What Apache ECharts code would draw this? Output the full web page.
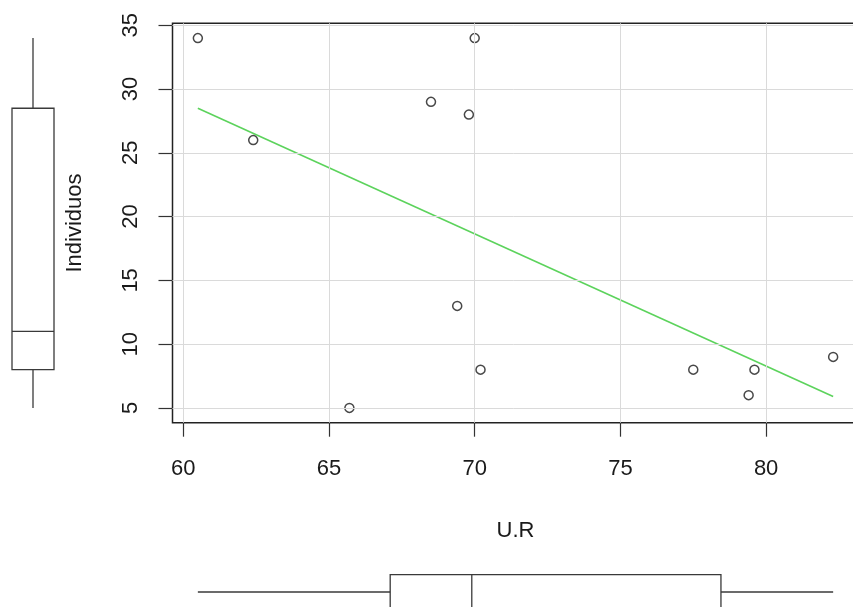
<!DOCTYPE html>
<html><head><meta charset="utf-8">
<script src="https://cdn.jsdelivr.net/npm/echarts@6/dist/echarts.min.js"></script>
<style>html,body{margin:0;padding:0;background:#fff}#c{width:853px;height:607px}</style>
</head><body><div id="c"></div>
<script>
// Data
const ur = [60.5, 70.0, 68.5, 69.8, 62.4, 69.4, 70.2, 65.7, 77.5, 79.6, 79.4, 82.3];
const individuos = [34, 34, 29, 28, 26, 13, 8, 5, 8, 8, 6, 9];
const fitX = [60.5, 82.3];
const fitY = [28.5, 5.9];
const xTicks = [60, 65, 70, 75, 80];
const yTicks = [5, 10, 15, 20, 25, 30, 35];
const xBox = [60.5, 67.1, 69.9, 78.45, 82.3]; // min, lower hinge, median, upper hinge, max
const yBox = [5, 8, 11, 28.5, 34];
const xRange = [59.63, 83.17];
const yRange = [3.84, 35.16];

const FONT = 'Liberation Sans';
const TXT = '#1a1a1a';
const FS = 22;
const G = {left: 172.5, top: 23.3, width: 686, height: 399.4};

const boxStroke = {stroke: '#3a3a3a', lineWidth: 1.3, fill: null};

const chart = echarts.init(document.getElementById('c'), null, {renderer: 'canvas'});
chart.setOption({
  animation: false,
  backgroundColor: '#fff',
  textStyle: {fontFamily: FONT},
  grid: [
    {left: G.left, top: G.top, width: G.width, height: G.height, show: true,
     outerBoundsMode: 'none', containLabel: false,
     borderColor: '#222', borderWidth: 1.5, backgroundColor: 'transparent'},
    {left: 0, top: G.top, width: 66, height: G.height, outerBoundsMode: 'none'},
    {left: G.left, top: 577, width: G.width, height: 30, outerBoundsMode: 'none'}
  ],
  xAxis: [
    {type: 'value', gridIndex: 0, min: xRange[0], max: xRange[1],
     axisLine: {show: false},
     axisTick: {show: true, customValues: xTicks, length: 14, lineStyle: {color: '#333', width: 1.2}},
     axisLabel: {customValues: xTicks, fontSize: FS, fontFamily: FONT, color: TXT, margin: 35},
     splitLine: {show: false},
     name: 'U.R', nameLocation: 'middle', nameGap: 97,
     nameTextStyle: {fontSize: FS, fontFamily: FONT, color: TXT}},
    {type: 'value', gridIndex: 1, min: 0, max: 1, show: false},
    {type: 'value', gridIndex: 2, min: xRange[0], max: xRange[1], show: false}
  ],
  yAxis: [
    {type: 'value', gridIndex: 0, min: yRange[0], max: yRange[1],
     axisLine: {show: false},
     axisTick: {show: true, customValues: yTicks, length: 14, lineStyle: {color: '#333', width: 1.2}},
     axisLabel: {customValues: yTicks, rotate: 90, fontSize: FS, fontFamily: FONT, color: TXT, margin: 31},
     splitLine: {show: false},
     name: 'Individuos', nameLocation: 'middle', nameGap: 87, nameRotate: 90,
     nameTextStyle: {fontSize: FS, fontFamily: FONT, color: TXT}},
    {type: 'value', gridIndex: 1, min: yRange[0], max: yRange[1], show: false},
    {type: 'value', gridIndex: 2, min: 0, max: 2, show: false}
  ],
  series: [
    {type: 'scatter', xAxisIndex: 0, yAxisIndex: 0, data: [], silent: true, z: 1,
     markLine: {silent: true, symbol: ['none', 'none'], label: {show: false},
       lineStyle: {color: '#dadada', width: 1, type: 'solid'},
       emphasis: {disabled: true},
       data: xTicks.map(v => ({xAxis: v})).concat(yTicks.map(v => ({yAxis: v})))}},
    {type: 'line', xAxisIndex: 0, yAxisIndex: 0, z: 3, silent: true,
     data: fitX.map((x, i) => [x, fitY[i]]), showSymbol: false,
     lineStyle: {color: '#5cd35c', width: 1.6}},
    {type: 'scatter', xAxisIndex: 0, yAxisIndex: 0, z: 4, silent: true,
     data: ur.map((x, i) => [x, individuos[i]]),
     symbol: 'circle', symbolSize: 9,
     itemStyle: {color: 'rgba(255,255,255,0)', borderColor: '#1a1a1a', borderWidth: 1.5}},
    {type: 'custom', xAxisIndex: 1, yAxisIndex: 1, silent: true, data: [yBox],
     renderItem: function (params, api) {
       const p = [0, 1, 2, 3, 4].map(i => api.coord([0.5, api.value(i)]));
       const cx = p[0][0], hw = 21;
       return {type: 'group', children: [
         {type: 'line', shape: {x1: cx, y1: p[0][1], x2: cx, y2: p[1][1]}, style: boxStroke},
         {type: 'line', shape: {x1: cx, y1: p[3][1], x2: cx, y2: p[4][1]}, style: boxStroke},
         {type: 'rect', shape: {x: cx - hw, y: p[3][1], width: 2 * hw, height: p[1][1] - p[3][1]}, style: boxStroke},
         {type: 'line', shape: {x1: cx - hw, y1: p[2][1], x2: cx + hw, y2: p[2][1]}, style: boxStroke}
       ]};
     }},
    {type: 'custom', xAxisIndex: 2, yAxisIndex: 2, silent: true, data: [xBox],
     renderItem: function (params, api) {
       const p = [0, 1, 2, 3, 4].map(i => api.coord([api.value(i), 1]));
       const cy = p[0][1], hh = 17.3;
       return {type: 'group', children: [
         {type: 'line', shape: {x1: p[0][0], y1: cy, x2: p[1][0], y2: cy}, style: boxStroke},
         {type: 'line', shape: {x1: p[3][0], y1: cy, x2: p[4][0], y2: cy}, style: boxStroke},
         {type: 'rect', shape: {x: p[1][0], y: cy - hh, width: p[3][0] - p[1][0], height: 2 * hh}, style: boxStroke},
         {type: 'line', shape: {x1: p[2][0], y1: cy - hh, x2: p[2][0], y2: cy + hh}, style: boxStroke}
       ]};
     }}
  ]
});
</script>
</body></html>
